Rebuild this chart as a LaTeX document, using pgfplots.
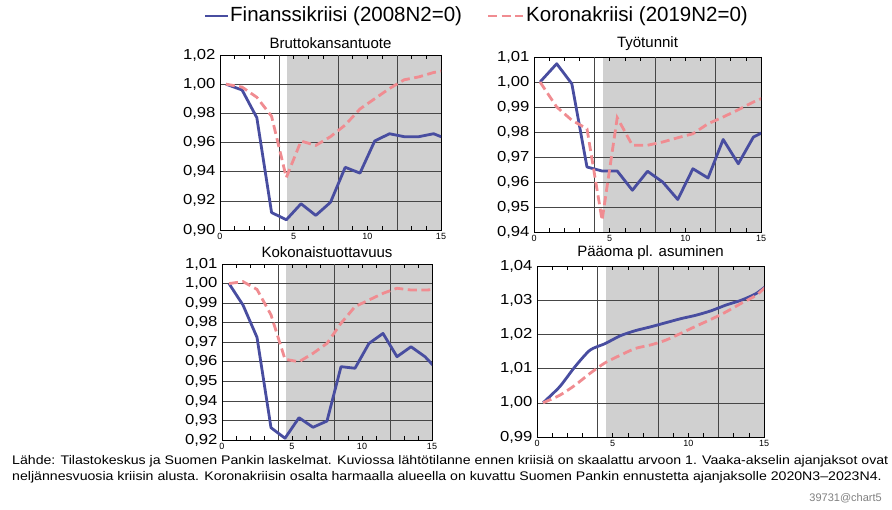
\documentclass[border=0pt]{standalone}
\usepackage{fontspec}
\setmainfont{Liberation Sans}
\usepackage{graphicx}
\usepackage{pgfplots}
\pgfplotsset{compat=1.18}

\definecolor{fkblue}{RGB}{72,77,160}
\definecolor{kkpink}{RGB}{240,140,145}
\definecolor{shade}{RGB}{208,208,208}
\definecolor{gridc}{RGB}{70,70,70}

\tikzset{
  fk/.style={fkblue, line width=2.8pt, line join=round},
  kk/.style={kkpink, line width=2.8pt, dash pattern=on 9pt off 4.5pt},
}

\pgfplotsset{
  base/.style={scale only axis, anchor=south west, xmin=0, xmax=15},
  backdrop/.style={base, hide axis},
  panel/.style={
    base,
    xtick={0,...,15},
    xticklabels={0,,,,,5,,,,,10,,,,,15},
    extra x ticks={4,8,12}, extra x tick labels={},
    extra x tick style={xmajorgrids=true, major tick length=0pt},
    tick align=inside, major tick length=4pt,
    ytick style={draw=none},
    xtick style={black, line width=0.6pt},
    ymajorgrids=true,
    grid style={gridc, line width=0.6pt},
    axis line style={black, line width=0.8pt},
    tick label style={/pgf/number format/assume math mode=true},
    yticklabel={\scalebox{1.15}[1]{\pgfmathprintnumber{\tick}}},
    yticklabel style={font=\fontsize{14.5}{16}\selectfont, xshift=-1pt,
      /pgf/number format/.cd, use comma, fixed, fixed zerofill, precision=2},
    xticklabel style={font=\fontsize{9}{10}\selectfont},
    title style={font=\fontsize{15}{17}\selectfont, yshift=-3pt},
  },
}

\begin{document}
\begin{tikzpicture}
\path (0pt,0pt) rectangle (892pt,509pt);

% legend
\draw[fk] (205pt,493pt) -- (228pt,493pt);
\node[anchor=west, inner sep=1pt, font=\fontsize{20.5}{22}\selectfont] at (229pt,493pt) {Finanssikriisi (2008N2=0)};
\draw[kk] (488pt,493pt) -- (523pt,493pt);
\node[anchor=west, inner sep=1pt, font=\fontsize{20.5}{22}\selectfont] at (525pt,493pt) {Koronakriisi (2019N2=0)};

% Bruttokansantuote
\begin{axis}[backdrop, at={(220pt,279pt)}, width=221pt, height=175pt, ymin=0.90, ymax=1.02]
\addplot[fill=shade, draw=none] coordinates {(4.55,0.90) (4.55,1.02) (15,1.02) (15,0.90)};
\end{axis}
\begin{axis}[panel, at={(220pt,279pt)}, width=221pt, height=175pt,
  ymin=0.90, ymax=1.02, ytick={0.90,0.92,0.94,0.96,0.98,1.00,1.02},
  title={Bruttokansantuote}]
\addplot[fk] coordinates {(0.4,1.000)(1.5,0.996)(2.5,0.977)(3.5,0.912)(4.5,0.907)(5.5,0.918)(6.5,0.910)(7.5,0.919)(8.5,0.943)(9.5,0.939)(10.5,0.961)(11.5,0.966)(12.5,0.964)(13.5,0.964)(14.5,0.966)(15.5,0.962)};
\addplot[kk] coordinates {(0.4,1.000)(1.5,0.998)(2.5,0.991)(3.5,0.978)(4.5,0.936)(5.5,0.961)(6.5,0.958)(7.5,0.964)(8.5,0.972)(9.5,0.983)(10.5,0.990)(11.5,0.997)(12.5,1.003)(13.5,1.005)(14.5,1.008)(15.5,1.010)};
\end{axis}

% Tyotunnit
\begin{axis}[backdrop, at={(534pt,277pt)}, width=227pt, height=175pt, ymin=0.94, ymax=1.01]
\addplot[fill=shade, draw=none] coordinates {(4.55,0.94) (4.55,1.01) (15,1.01) (15,0.94)};
\end{axis}
\begin{axis}[panel, at={(534pt,277pt)}, width=227pt, height=175pt,
  ymin=0.94, ymax=1.01, ytick={0.94,0.95,0.96,0.97,0.98,0.99,1.00,1.01},
  title={Työtunnit}]
\addplot[fk] coordinates {(0.4,1.000)(1.5,1.0073)(2.5,0.9993)(3.5,0.966)(4.5,0.9644)(5.5,0.9644)(6.5,0.9567)(7.5,0.9643)(8.5,0.960)(9.5,0.953)(10.5,0.9653)(11.5,0.9616)(12.5,0.977)(13.5,0.9673)(14.5,0.978)(15.5,0.981)};
\addplot[kk] coordinates {(0.4,1.000)(1.5,0.990)(2.5,0.9847)(3.5,0.9813)(4.5,0.9447)(5.5,0.9857)(6.5,0.9747)(7.5,0.9747)(8.5,0.976)(9.5,0.9777)(10.5,0.9793)(11.5,0.9833)(12.5,0.986)(13.5,0.9889)(14.5,0.992)(15.5,0.9946)};
\end{axis}

% Kokonaistuottavuus
\begin{axis}[backdrop, at={(222pt,69pt)}, width=210pt, height=176pt, ymin=0.92, ymax=1.01]
\addplot[fill=shade, draw=none] coordinates {(4.55,0.92) (4.55,1.01) (15,1.01) (15,0.92)};
\end{axis}
\begin{axis}[panel, at={(222pt,69pt)}, width=210pt, height=176pt,
  ymin=0.92, ymax=1.01, ytick={0.92,0.93,0.94,0.95,0.96,0.97,0.98,0.99,1.00,1.01},
  title={Kokonaistuottavuus}]
\addplot[fk] coordinates {(0.5,1.000)(1.5,0.989)(2.5,0.9725)(3.5,0.9263)(4.5,0.9209)(5.5,0.9314)(6.5,0.9265)(7.5,0.9297)(8.5,0.9575)(9.5,0.9567)(10.5,0.9694)(11.5,0.9745)(12.5,0.9626)(13.5,0.9677)(14.5,0.9626)(15.5,0.955)};
\addplot[kk] coordinates {(0.5,1.000)(1.5,1.001)(2.5,0.997)(3.5,0.984)(4.5,0.9613)(5.5,0.960)(6.5,0.9643)(7.5,0.9694)(8.5,0.9797)(9.5,0.9882)(10.5,0.9916)(11.5,0.995)(12.5,0.9976)(13.5,0.9967)(14.5,0.9967)(15.5,0.997)};
\end{axis}

% Paaoma pl. asuminen
\begin{axis}[backdrop, at={(537pt,72pt)}, width=227pt, height=171pt, ymin=0.99, ymax=1.04]
\addplot[fill=shade, draw=none] coordinates {(4.55,0.99) (4.55,1.04) (15,1.04) (15,0.99)};
\end{axis}
\begin{axis}[panel, at={(537pt,72pt)}, width=227pt, height=171pt,
  ymin=0.99, ymax=1.04, ytick={0.99,1.00,1.01,1.02,1.03,1.04},
  title={Pääoma pl. asuminen}]
\addplot[fk, smooth, tension=0.4] coordinates {(0.4,1.000)(1.5,1.0047)(2.5,1.0105)(3.5,1.0154)(4.5,1.0173)(5.5,1.0196)(6.5,1.0211)(7.5,1.0222)(8.5,1.0234)(9.5,1.0246)(10.5,1.0256)(11.5,1.0269)(12.5,1.0286)(13.5,1.030)(14.5,1.032)(15.5,1.0354)};
\addplot[kk, smooth, tension=0.4] coordinates {(0.4,1.000)(1.5,1.0022)(2.5,1.0051)(3.5,1.0086)(4.5,1.0117)(5.5,1.0139)(6.5,1.0159)(7.5,1.0169)(8.5,1.0183)(9.5,1.0203)(10.5,1.0224)(11.5,1.0244)(12.5,1.0266)(13.5,1.0291)(14.5,1.0315)(15.5,1.0355)};
\end{axis}

% footnote
\node[anchor=north west, inner sep=0pt] at (12pt,56pt) {\resizebox{876pt}{\height}{\fontsize{12.5}{16}\selectfont
  \begin{tabular}{@{}l@{}}
  Lähde: Tilastokeskus ja Suomen Pankin laskelmat. Kuviossa lähtötilanne ennen kriisiä on skaalattu arvoon 1. Vaaka-akselin ajanjaksot ovat\\
  neljännesvuosia kriisin alusta. Koronakriisin osalta harmaalla alueella on kuvattu Suomen Pankin ennustetta ajanjaksolle 2020N3–2023N4.
  \end{tabular}}};
\node[anchor=east, inner sep=0pt, text=black!50, font=\fontsize{11}{12}\selectfont] at (882pt,11pt) {39731@chart5};
\end{tikzpicture}
\end{document}
